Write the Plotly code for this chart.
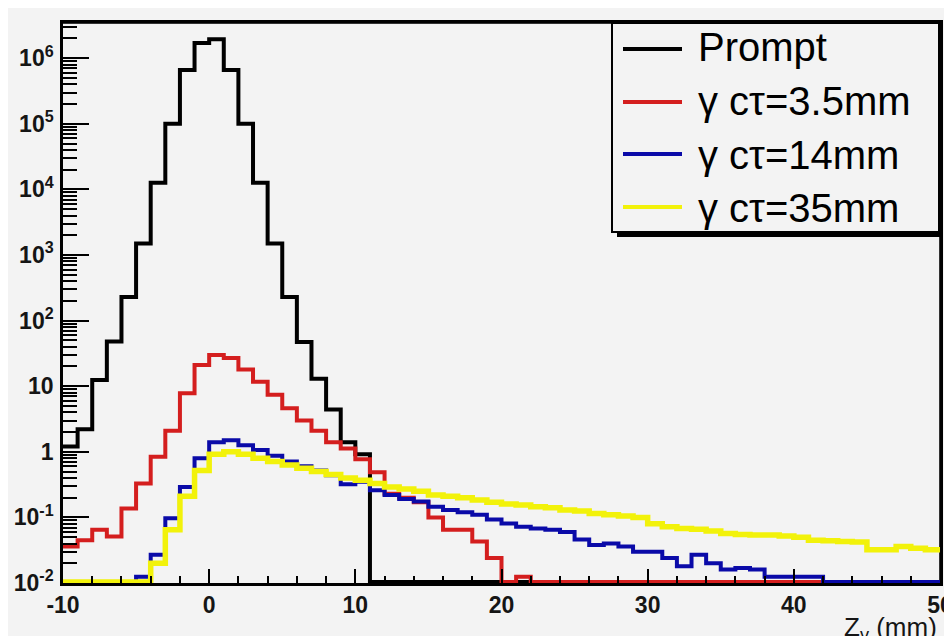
import plotly.graph_objects as go

# ---------------- data ----------------
bin_edges = list(range(-10, 51))  # 1 mm bins from -10 to 50

series_names = ["Prompt", "γ cτ=3.5mm", "γ cτ=14mm", "γ cτ=35mm"]
series_colors = ["#000000", "#d41e1e", "#0a0aa8", "#f2f20a"]
series_widths = [4, 4, 4, 5.5]

prompt = [1.2, 2.2, 12.4, 48, 230, 1500, 12600, 1.0e5, 6.6e5, 1.7e6,
          1.95e6, 6.6e5, 1.0e5, 1.26e4, 1500, 230, 47, 13, 4.4, 1.4,
          0.92, 0, 0, 0, 0, 0, 0, 0, 0, 0,
          0, 0, 0, 0, 0, 0, 0, 0, 0, 0,
          0, 0, 0, 0, 0, 0, 0, 0, 0, 0,
          0, 0, 0, 0, 0, 0, 0, 0, 0, 0]

ctau_3p5 = [0.036, 0.045, 0.065, 0.051, 0.137, 0.33, 0.84, 2.1, 7.8, 21,
            30, 27, 18, 11.7, 7.4, 4.6, 3.0, 2.1, 1.4, 1.12,
            0.77, 0.49, 0.23, 0.20, 0.17, 0.10, 0.065, 0.065, 0.043, 0.024,
            0, 0.0125, 0, 0, 0, 0, 0, 0, 0, 0,
            0, 0, 0, 0, 0, 0, 0, 0, 0, 0,
            0, 0, 0, 0, 0, 0, 0, 0, 0, 0]

ctau_14 = [0, 0, 0, 0, 0, 0.0125, 0.027, 0.097, 0.29, 0.80,
           1.4, 1.5, 1.26, 1.07, 0.87, 0.71, 0.60, 0.52, 0.44, 0.32,
           0.35, 0.26, 0.22, 0.19, 0.175, 0.145, 0.13, 0.12, 0.11, 0.093,
           0.081, 0.072, 0.068, 0.065, 0.06, 0.046, 0.038, 0.040, 0.036, 0.030,
           0.030, 0.024, 0.018, 0.027, 0.020, 0.016, 0.017, 0.016, 0.0125, 0.0125,
           0.0125, 0.0125, 0, 0, 0, 0, 0, 0, 0, 0]

ctau_35 = [0, 0, 0, 0, 0, 0, 0.020, 0.065, 0.21, 0.52,
           0.92, 1.0, 0.92, 0.80, 0.71, 0.63, 0.56, 0.50, 0.45, 0.40,
           0.37, 0.33, 0.29, 0.27, 0.25, 0.22, 0.21, 0.20, 0.185, 0.17,
           0.16, 0.155, 0.145, 0.14, 0.13, 0.125, 0.115, 0.11, 0.105, 0.10,
           0.08, 0.072, 0.068, 0.066, 0.062, 0.057, 0.055, 0.054, 0.054, 0.052,
           0.05, 0.045, 0.044, 0.043, 0.042, 0.032, 0.032, 0.036, 0.034, 0.032]

y_tick_vals = [1e-2, 1e-1, 1, 10, 1e2, 1e3, 1e4, 1e5, 1e6]
y_tick_text = ["10<sup>-2</sup>", "10<sup>-1</sup>", "1", "10", "10<sup>2</sup>",
               "10<sup>3</sup>", "10<sup>4</sup>", "10<sup>5</sup>", "10<sup>6</sup>"]
x_tick_vals = [-10, 0, 10, 20, 30, 40, 50]
x_title = "Z<sub>v</sub> (mm)"

# ---------------- layout constants ----------------
# The page body has an 8 px margin, so the figure is drawn 8 px in from the
# window corner; all positions below are given in window pixels.
OFF = 8
WIN_W, WIN_H = 952, 636
W, H = WIN_W - OFF, WIN_H - OFF
L, R, T, B = 63, 940, 23, 583           # plot frame in window pixels
Y_LOG_RANGE = [-2, 6.537]
FLOOR = 10 ** -1.985  # zero-content bins drawn on the bottom edge (ROOT style)
FONT = "Liberation Sans, Arial, Helvetica, sans-serif"
TICK_FONT = dict(family=FONT, size=23, color="#151515", weight="bold")


def xp(px):
    return (px - L) / (R - L)


def yp(py):
    return (B - py) / (B - T)


fig = go.Figure()

all_series = [prompt, ctau_3p5, ctau_14, ctau_35]
for name, vals, col, lw in zip(series_names, all_series, series_colors, series_widths):
    yv = [v if v > 0 else FLOOR for v in vals]
    fig.add_trace(go.Scatter(
        x=bin_edges,
        y=yv + [yv[-1]],
        mode="lines",
        line=dict(color=col, width=lw, shape="hv"),
        name=name,
        showlegend=False,
        hoverinfo="skip",
    ))

minor_vals = [m * 10 ** e for e in range(-2, 7) for m in range(2, 10)]

fig.update_xaxes(
    range=[-10, 50], automargin=False,
    tickmode="array", tickvals=x_tick_vals, ticktext=[str(v) for v in x_tick_vals],
    ticks="inside", ticklen=14, tickwidth=2, tickcolor="black",
    minor=dict(ticks="inside", ticklen=7, tickwidth=2, tickcolor="black", dtick=2, tick0=0),
    showline=True, linecolor="black", linewidth=2.5, mirror=True,
    showgrid=False, zeroline=False,
    tickfont=TICK_FONT,
    ticklabelstandoff=0,
    ticklabeloverflow="allow",
)
fig.update_yaxes(
    type="log", range=Y_LOG_RANGE, automargin=False,
    tickmode="array", tickvals=y_tick_vals, ticktext=y_tick_text,
    ticks="inside", ticklen=26, tickwidth=2, tickcolor="black",
    minor=dict(ticks="inside", ticklen=14, tickwidth=2, tickcolor="black",
               tickmode="array", tickvals=minor_vals),
    showline=True, linecolor="black", linewidth=2.5, mirror=True,
    showgrid=False, zeroline=False,
    tickfont=TICK_FONT,
    ticklabelstandoff=2,
    ticklabeloverflow="allow",
)

shapes = [
    # plot frame (top/right sides drawn in ROOT's grey)
    dict(type="line", xref="paper", yref="paper", layer="below",
         x0=1, x1=1, y0=0, y1=1, line=dict(color="#333333", width=2)),
    dict(type="line", xref="paper", yref="paper", layer="below",
         x0=0, x1=1, y0=1, y1=1, line=dict(color="#333333", width=2)),
    # legend shadow
    dict(type="rect", xref="paper", yref="paper", layer="above",
         x0=xp(617), x1=xp(943), y0=yp(28), y1=yp(237),
         fillcolor="black", line=dict(width=0)),
    # legend box
    dict(type="rect", xref="paper", yref="paper", layer="above",
         x0=xp(612), x1=xp(939), y0=yp(23), y1=yp(232),
         fillcolor="#f3f3f3", line=dict(color="black", width=2)),
]

annotations = []
row_line_y = [49, 102, 154, 207]
row_text_y = [47, 101, 155, 208]
for name, col, ly, ty in zip(series_names, series_colors, row_line_y, row_text_y):
    shapes.append(dict(type="line", xref="paper", yref="paper", layer="above",
                       x0=xp(623), x1=xp(682), y0=yp(ly), y1=yp(ly),
                       line=dict(color=col, width=4)))
    annotations.append(dict(xref="paper", yref="paper", x=xp(696), y=yp(ty),
                            xanchor="left", yanchor="middle", showarrow=False,
                            text=name, font=dict(family=FONT, size=40, color="black")))

annotations.append(dict(xref="paper", yref="paper", x=xp(939), y=yp(610),
                        xanchor="right", yanchor="top", showarrow=False,
                        text=x_title, font=dict(family=FONT, size=26, color="#151515")))

fig.update_layout(
    width=W, height=H,
    margin=dict(l=L - OFF, r=WIN_W - R, t=T - OFF, b=WIN_H - B, pad=0),
    paper_bgcolor="#f3f3f3",
    plot_bgcolor="rgba(0,0,0,0)",
    shapes=shapes,
    annotations=annotations,
    showlegend=False,
)

fig.write_html("out.html")
